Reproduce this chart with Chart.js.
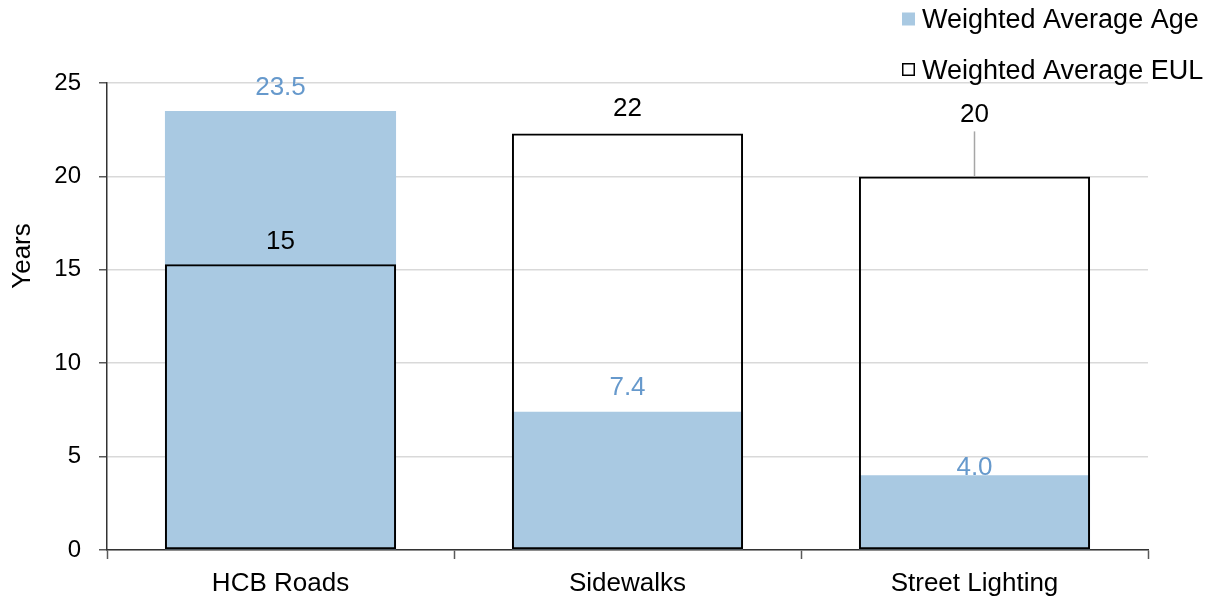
<!DOCTYPE html>
<html>
<head>
<meta charset="utf-8">
<script src="https://cdn.jsdelivr.net/npm/chart.js@4.4.1/dist/chart.umd.min.js"></script>
<style>
  html, body { margin: 0; padding: 0; background: #ffffff; }
  #wrap { width: 1206px; height: 596px; position: relative; }
</style>
</head>
<body>
<div id="wrap"><canvas id="chart"></canvas></div>
<script>
// Asset categories and their weighted averages (years)
const CATEGORIES = ['HCB Roads', 'Sidewalks', 'Street Lighting'];
const AVERAGE_AGE = [23.5, 7.4, 4.0];
const AVERAGE_EUL = [15.3, 22.3, 20.0];
const Y_TICKS = [0, 5, 10, 15, 20, 25];
const SERIES_NAMES = ['Weighted Average Age', 'Weighted Average EUL'];

const FONT = '"Liberation Sans", Arial, Helvetica, sans-serif';
const AGE_FILL = '#A9C9E2';
const AGE_TEXT = '#6699CC';
const AXIS_DARK = '#595959';

// Value labels above each bar, with an optional leader line
const valueLabels = {
  id: 'valueLabels',
  afterDatasetsDraw(chart, args, opts) {
    const ctx = chart.ctx;
    chart.data.datasets.forEach((ds, di) => {
      const cfg = opts.sets[di];
      const meta = chart.getDatasetMeta(di);
      meta.data.forEach((bar, i) => {
        const y = bar.y - cfg.lift[i];
        ctx.save();
        ctx.font = '26px ' + FONT;
        ctx.fillStyle = cfg.color;
        ctx.textAlign = 'center';
        ctx.textBaseline = 'middle';
        ctx.fillText(ds.data[i].toFixed(cfg.decimals), bar.x, y);
        if (cfg.leader && cfg.leader[i]) {
          ctx.strokeStyle = '#A6A6A6';
          ctx.lineWidth = 1.5;
          ctx.beginPath();
          ctx.moveTo(bar.x, y + 17);
          ctx.lineTo(bar.x, bar.y);
          ctx.stroke();
        }
        ctx.restore();
      });
    });
  }
};

// Stacked legend in the top-right corner and the rotated axis title
const sideDecor = {
  id: 'sideDecor',
  afterDraw(chart, args, opts) {
    const ctx = chart.ctx;
    ctx.save();
    ctx.font = '27px ' + FONT;
    ctx.textBaseline = 'middle';
    ctx.textAlign = 'left';
    opts.rows.forEach((row, i) => {
      const ds = chart.data.datasets[i];
      const s = 13;
      const x = opts.x, cy = row;
      if (ds.backgroundColor && ds.backgroundColor !== 'rgba(0,0,0,0)') {
        ctx.fillStyle = ds.backgroundColor;
        ctx.fillRect(x, cy - s / 2, s, s);
      } else {
        ctx.strokeStyle = '#000000';
        ctx.lineWidth = 1.5;
        ctx.strokeRect(x + 0.75, cy - s / 2 + 0.75, s - 1.5, s - 1.5);
      }
      ctx.fillStyle = '#000000';
      ctx.fillText(ds.label, x + 20, cy + 2);
    });
    // y axis title
    ctx.translate(opts.titleX, opts.titleY);
    ctx.rotate(-Math.PI / 2);
    ctx.textAlign = 'center';
    ctx.font = '26px ' + FONT;
    ctx.fillText('Years', 0, 0);
    ctx.restore();
  }
};

new Chart(document.getElementById('chart'), {
  type: 'bar',
  data: {
    labels: CATEGORIES,
    datasets: [
      {
        label: SERIES_NAMES[0],
        data: AVERAGE_AGE,
        backgroundColor: AGE_FILL,
        borderWidth: 0,
        grouped: false,
        order: 2,
        categoryPercentage: 0.666,
        barPercentage: 1
      },
      {
        label: SERIES_NAMES[1],
        data: AVERAGE_EUL,
        backgroundColor: 'rgba(0,0,0,0)',
        borderColor: '#000000',
        borderWidth: 2,
        borderSkipped: false,
        grouped: false,
        order: 1,
        categoryPercentage: 0.666,
        barPercentage: 1
      }
    ]
  },
  options: {
    responsive: true,
    maintainAspectRatio: false,
    animation: false,
    layout: { padding: { top: 83, right: 58, left: 0, bottom: 0 } },
    plugins: {
      legend: { display: false },
      tooltip: { enabled: false },
      valueLabels: {
        sets: [
          { color: AGE_TEXT, decimals: 1, lift: [23, 24, 7] },
          { color: '#000000', decimals: 0, lift: [22, 25, 62], leader: [false, false, true] }
        ]
      },
      sideDecor: { x: 902, rows: [19, 69.5], titleX: 23, titleY: 256 }
    },
    scales: {
      x: {
        offset: true,
        afterFit(scale) { scale.height = 46; },
        grid: {
          display: true,
          offset: true,
          drawOnChartArea: false,
          drawTicks: true,
          tickLength: 9,
          tickColor: AXIS_DARK,
          tickWidth: 1.5
        },
        border: { display: true, color: '#333333', width: 1.5 },
        ticks: {
          color: '#000000',
          font: { family: FONT, size: 26 },
          padding: 9
        }
      },
      y: {
        min: 0,
        max: 25,
        afterFit(scale) { scale.width = 107; },
        afterBuildTicks(scale) { scale.ticks = Y_TICKS.map(v => ({ value: v })); },
        grid: {
          color: '#D9D9D9',
          lineWidth: 1.5,
          drawTicks: true,
          tickLength: 8,
          tickColor: AXIS_DARK,
          tickWidth: 1.5
        },
        border: { display: true, color: '#333333', width: 1.5 },
        ticks: {
          color: '#000000',
          font: { family: FONT, size: 24 },
          padding: 18
        }
      }
    }
  },
  plugins: [valueLabels, sideDecor]
});
</script>
</body>
</html>
